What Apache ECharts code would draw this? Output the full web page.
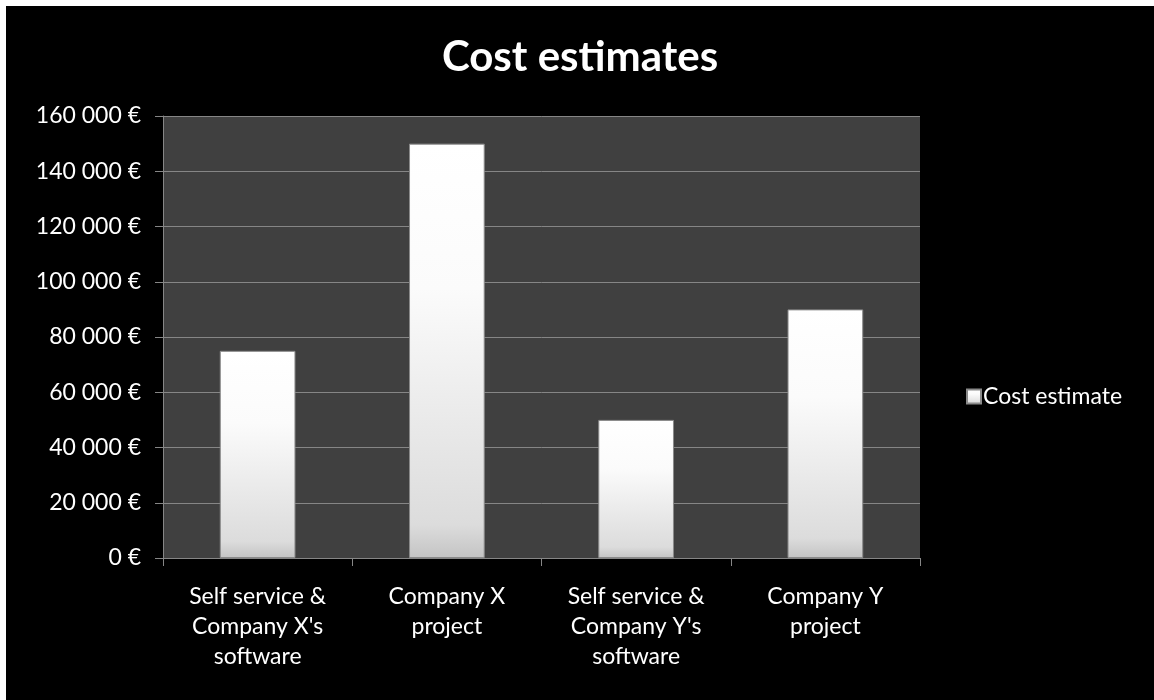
<!DOCTYPE html>
<html>
<head>
<meta charset="utf-8">
<script src="https://cdn.jsdelivr.net/npm/echarts@6/dist/echarts.min.js"></script>
<style>
html,body{margin:0;padding:0;background:#ffffff;width:1154px;height:700px;overflow:hidden;}
#c{position:absolute;left:6px;top:6px;width:1148px;height:694px;background:#000;}
</style>
</head>
<body>
<div id="c"></div>
<script>
const titleText = 'Cost estimates';
const seriesName = 'Cost estimate';
const categories = [
  "Self service &\nCompany X's\nsoftware",
  "Company X\nproject",
  "Self service &\nCompany Y's\nsoftware",
  "Company Y\nproject"
];
const values = [75000, 150000, 50000, 90000];
const yMin = 0, yMax = 160000, yStep = 20000;

const FONT = 'Lato, "Open Sans", sans-serif';
const chart = echarts.init(document.getElementById('c'));
chart.setOption({
  backgroundColor: '#000000',
  animation: false,
  title: {
    text: titleText, left: 'center', top: 25,
    textStyle: {color: '#ffffff', fontSize: 42, fontWeight: 'bold', fontFamily: FONT}
  },
  legend: {
    data: [seriesName], orient: 'vertical', left: 955, top: 374,
    itemWidth: 14, itemHeight: 14, itemGap: 5,
    icon: 'rect',
    textStyle: {color: '#ffffff', fontSize: 23, fontFamily: FONT, padding: [0,0,0,-3]}
  },
  grid: {left: 157, right: 234, top: 110, bottom: 142, show: true,
         backgroundColor: '#404040', borderWidth: 0},
  xAxis: {
    type: 'category', data: categories,
    axisLine: {lineStyle: {color: '#868686', width: 1}},
    axisTick: {show: true, length: 8, alignWithLabel: false, lineStyle: {color: '#868686'}},
    axisLabel: {color: '#ffffff', fontSize: 23, fontFamily: FONT, lineHeight: 30, margin: 24, interval: 0}
  },
  yAxis: {
    type: 'value', min: yMin, max: yMax, interval: yStep,
    axisLine: {show: true, lineStyle: {color: '#868686', width: 1}},
    axisTick: {show: true, length: 8, lineStyle: {color: '#868686'}},
    splitLine: {lineStyle: {color: '#868686', width: 1}},
    axisLabel: {
      color: '#ffffff', fontSize: 23, fontFamily: FONT, margin: 22,
      formatter: v => String(v).replace(/\B(?=(\d{3})+(?!\d))/g, ' ') + ' €'
    }
  },
  series: [{
    name: seriesName, type: 'bar', data: values, barWidth: '40%',
    itemStyle: {
      borderColor: '#8a8a8a', borderWidth: 1,
      color: new echarts.graphic.LinearGradient(0, 0, 0, 1, [
        {offset: 0, color: '#ffffff'},
        {offset: 0.35, color: '#fbfbfb'},
        {offset: 0.92, color: '#dcdcdc'},
        {offset: 1, color: '#c4c4c4'}
      ])
    }
  }]
});
</script>
</body>
</html>
